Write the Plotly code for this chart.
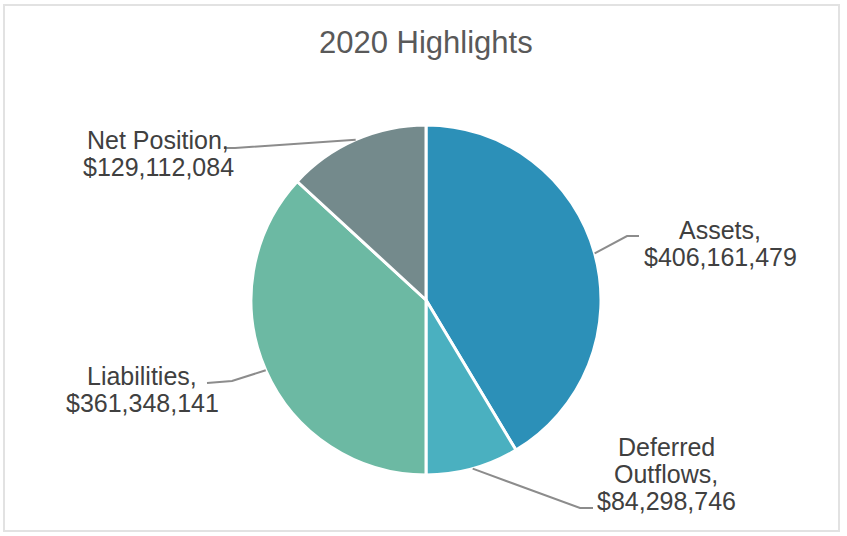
import math
import plotly.graph_objects as go

# 2020 statement of net position, dollars
categories = ["Assets", "Deferred Outflows", "Liabilities", "Net Position"]
amounts = [406161479, 84298746, 361348141, 129112084]
label_lines = [
    ["Assets,", "$406,161,479"],
    ["Deferred", "Outflows,", "$84,298,746"],
    ["Liabilities,", "$361,348,141"],
    ["Net Position,", "$129,112,084"],
]
colors = ["#2C90B8", "#4AB0C0", "#6CB9A3", "#748A8C"]

W, H = 847, 536
CX, CY, R = 426, 300, 175          # pie centre and radius in pixels
FONT = "Liberation Sans"
TEXT_COLOR = "#404040"
LINE_COLOR = "#8C8C8C"
LINE_STEP = 27                      # spacing between label lines, px

# label placement: text centre x, first-line centre y, leader-line bend points
label_layout = {
    "Assets": dict(x=720, y=230, bends=[(627, 236), (639, 236)]),
    "Deferred Outflows": dict(x=666, y=447, bends=[(580, 508), (593, 508)]),
    "Liabilities": dict(x=142, y=376, bends=[(232, 381), (207, 383)]),
    "Net Position": dict(x=158, y=140, bends=[(235, 148), (224, 148)]),
}


def px(x):
    return x / W


def py(y):
    return 1 - y / H


fig = go.Figure(
    go.Pie(
        labels=categories,
        values=amounts,
        sort=False,
        direction="clockwise",
        rotation=0,
        marker=dict(colors=colors, line=dict(color="white", width=3)),
        textinfo="none",
        hoverinfo="label+value+percent",
        showlegend=False,
        domain=dict(x=[px(CX - R), px(CX + R)], y=[py(CY + R), py(CY - R)]),
    )
)

annotations = []
shapes = []
total = sum(amounts)
cum = 0
for name, val, lines in zip(categories, amounts, label_lines):
    theta = 2 * math.pi * (cum + val / 2) / total
    cum += val
    ax = CX + R * math.sin(theta)
    ay = CY - R * math.cos(theta)
    spec = label_layout[name]
    pts = [(ax, ay)] + spec["bends"]
    path = "M " + " L ".join(f"{px(x):.5f},{py(y):.5f}" for x, y in pts)
    shapes.append(dict(type="path", path=path, xref="paper", yref="paper",
                       line=dict(color=LINE_COLOR, width=2)))
    for i, txt in enumerate(lines):
        annotations.append(dict(
            text=txt, x=px(spec["x"]), y=py(spec["y"] + i * LINE_STEP),
            xref="paper", yref="paper", xanchor="center", yanchor="middle",
            showarrow=False, font=dict(family=FONT, size=25, color=TEXT_COLOR),
        ))

annotations.append(dict(
    text="2020 Highlights", x=px(426), y=py(43), xref="paper", yref="paper",
    xanchor="center", yanchor="middle", showarrow=False,
    font=dict(family=FONT, size=31, color="#595959"),
))

# chart-area frame
shapes.append(dict(type="rect", xref="paper", yref="paper",
                   x0=px(4), x1=px(839), y0=py(531), y1=py(5),
                   line=dict(color="#E2E2E2", width=2)))

fig.update_layout(
    width=W, height=H,
    margin=dict(l=0, r=0, t=0, b=0),
    paper_bgcolor="white", plot_bgcolor="white",
    annotations=annotations, shapes=shapes,
)

fig.write_html("out.html", config={"displayModeBar": False})
